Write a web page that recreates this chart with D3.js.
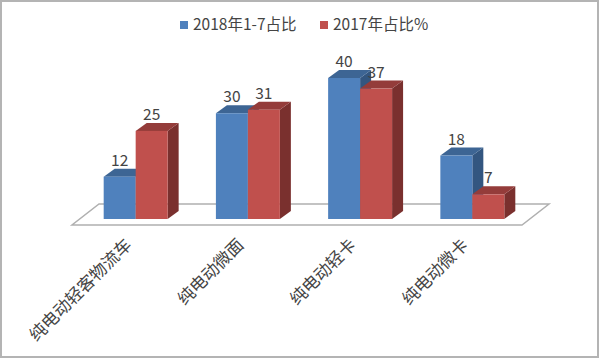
<!DOCTYPE html>
<html>
<head>
<meta charset="utf-8">
<script src="https://cdn.jsdelivr.net/npm/d3@7"></script>
<style>
html, body { margin: 0; padding: 0; background: #fff; }
svg { display: block; }
text { font-family: "Noto Sans CJK SC", "DejaVu Sans", sans-serif; fill: #444; }
</style>
</head>
<body>
<svg id="chart" width="600" height="359"></svg>
<script>
var categories = ['纯电动轻客物流车', '纯电动微面', '纯电动轻卡', '纯电动微卡'];
var seriesNames = ['2018年1-7占比', '2017年占比%'];
var values2018 = [12, 30, 40, 18];
var values2017 = [25, 31, 37, 7];
var frontColors = ['#4f81bd', '#c0504d'];
var topColors = ['#3d6594', '#943c3a'];
var sideColors = ['#335680', '#7a302e'];

var svg = d3.select('#chart');
var depthX = 11, depthY = 8; // 3d offset of the bars

// chart frame
svg.append('rect')
    .attr('x', 1).attr('y', 1)
    .attr('width', 597).attr('height', 356)
    .attr('fill', '#fff')
    .attr('stroke', '#b4b4b4')
    .attr('stroke-width', 2);

// scales
var xScale = d3.scaleBand().domain(categories).range([79, 529]).paddingInner(0.43).paddingOuter(0.22);
var yScale = d3.scaleLinear().domain([0, 40]).range([219, 78]);
var subScale = d3.scaleBand().domain([0, 1]).range([0, xScale.bandwidth()]);

// floor of the 3d plot
var floorLine = d3.line();
svg.append('path')
    .attr('d', floorLine([[72, 225], [522, 225], [549, 204], [99, 204]]) + 'Z')
    .attr('fill', '#fff')
    .attr('stroke', '#b0b0b0')
    .attr('stroke-width', 1.5);

// flatten the series to one list, drawn in order so red covers blue
var bars = [];
categories.forEach(function (c, i) {
    bars.push({cat: c, s: 0, value: values2018[i]});
    bars.push({cat: c, s: 1, value: values2017[i]});
});
function barX(d) { return xScale(d.cat) + subScale(d.s); }
var w = subScale.bandwidth();

var barG = svg.selectAll('g.bar').data(bars).enter().append('g').attr('class', 'bar');
// side face
barG.append('path')
    .attr('fill', function (d) { return sideColors[d.s]; })
    .attr('d', function (d) {
        var x = barX(d) + w, t = yScale(d.value), b = yScale(0);
        return floorLine([[x, t], [x + depthX, t - depthY], [x + depthX, b - depthY], [x, b]]) + 'Z';
    });
// top face
barG.append('path')
    .attr('fill', function (d) { return topColors[d.s]; })
    .attr('d', function (d) {
        var x = barX(d), t = yScale(d.value);
        return floorLine([[x, t], [x + depthX, t - depthY], [x + w + depthX, t - depthY], [x + w, t]]) + 'Z';
    });
// front face
barG.append('rect')
    .attr('fill', function (d) { return frontColors[d.s]; })
    .attr('x', barX)
    .attr('y', function (d) { return yScale(d.value); })
    .attr('width', w)
    .attr('height', function (d) { return yScale(0) - yScale(d.value); });

// value labels
svg.selectAll('text.value').data(bars).enter().append('text')
    .attr('class', 'value')
    .attr('x', function (d) { return barX(d) + w / 2; })
    .attr('y', function (d) { return yScale(d.value) - depthY - 3; })
    .attr('text-anchor', 'middle')
    .attr('font-size', 15.5)
    .text(function (d) { return d.value; });

// category labels
svg.selectAll('text.cat').data(categories).enter().append('text')
    .attr('class', 'cat')
    .attr('text-anchor', 'end')
    .attr('font-size', 17)
    .attr('transform', function (d) {
        return 'translate(' + (xScale(d) + xScale.bandwidth() / 2 - 3) + ',246) rotate(-45)';
    })
    .text(function (d) { return d; });

// legend
var legendX = [180, 320];
var legend = svg.selectAll('g.legend').data(seriesNames).enter().append('g').attr('class', 'legend');
legend.append('rect')
    .attr('x', function (d, i) { return legendX[i]; })
    .attr('y', 21)
    .attr('width', 8).attr('height', 8)
    .attr('fill', function (d, i) { return frontColors[i]; });
legend.append('text')
    .attr('x', function (d, i) { return legendX[i] + 13; })
    .attr('y', 30)
    .attr('font-size', 15.5)
    .text(function (d) { return d; });
</script>
</body>
</html>
